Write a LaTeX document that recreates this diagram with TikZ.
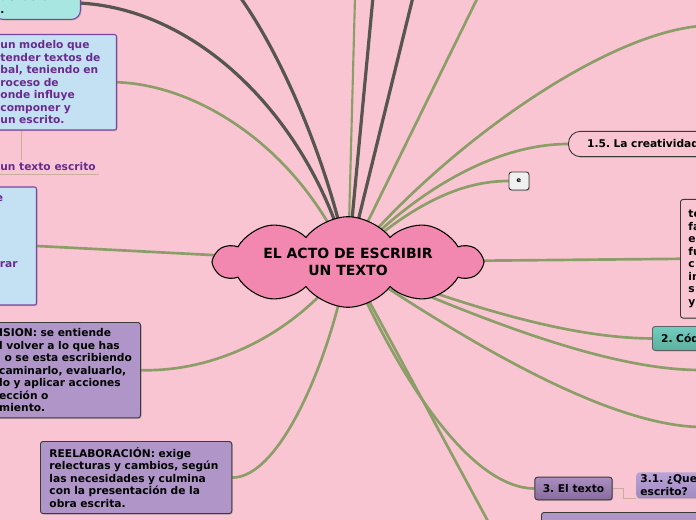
\documentclass[tikz,border=0pt]{standalone}
\usepackage{fontspec}
\setmainfont{DejaVu Sans}
\usetikzlibrary{shapes.symbols,shadows}
\frenchspacing

\definecolor{paper}{HTML}{F9C5D2}
\definecolor{cloudpink}{HTML}{F287B0}
\definecolor{twigc}{HTML}{8C9E68}
\definecolor{barkc}{HTML}{56554E}
\definecolor{stalkc}{HTML}{C9AE9E}
\definecolor{skyfill}{HTML}{C4E0F3}
\definecolor{plum}{HTML}{6A2B8E}
\definecolor{plumedge}{HTML}{7A45A0}
\definecolor{lilac}{HTML}{B096C8}
\definecolor{mint}{HTML}{A8E7E1}
\definecolor{edge}{HTML}{3A3A3A}
\definecolor{tealtop}{HTML}{72CDBE}
\definecolor{tealbot}{HTML}{5CAF9F}
\definecolor{grapetop}{HTML}{AA8EC0}
\definecolor{grapebot}{HTML}{886C9E}
\definecolor{violtop}{HTML}{BAA4D6}
\definecolor{violbot}{HTML}{A08AC0}

\pgfdeclarelayer{paperlayer}
\pgfdeclarelayer{links}
\pgfsetlayers{paperlayer,links,main}

\begin{document}
\begin{tikzpicture}[x=0.75pt, y=-0.75pt,
    topic/.style={font=\fontsize{8}{9.4}\selectfont\bfseries, align=left,
                  inner xsep=5pt, inner ysep=4.5pt},
    soft/.style={drop shadow={shadow xshift=0.8pt, shadow yshift=-0.8pt, opacity=0.35}},
    skybox/.style={topic, soft, draw=plumedge, fill=skyfill, text=plum,
                   rounded corners=1.5pt, line width=0.8pt},
    lilacbox/.style={topic, soft, draw=edge, fill=lilac, rounded corners=2pt, line width=0.7pt},
    mintbox/.style={topic, soft, draw=plumedge, fill=mint, rounded corners=7pt, line width=0.8pt},
    plainbox/.style={topic, soft, draw=edge, fill=paper, rounded corners=2pt, line width=0.7pt},
    twig/.style={draw=twigc, line width=2pt},
    bark/.style={draw=barkc, line width=2.4pt},
    stalk/.style={draw=stalkc, line width=0.7pt},
  ]
  \useasboundingbox (0,0) rectangle (696,520);
  \begin{pgfonlayer}{paperlayer}
    \fill[paper] (0,0) rectangle (696,520);
  \end{pgfonlayer}

  % central idea
  \node[cloud, cloud puffs=10, cloud puff arc=105, aspect=4.6, draw=black, line width=0.8pt,
        fill=cloudpink, minimum width=200pt, minimum height=50pt, align=center,
        font=\fontsize{10.5}{12.75}\selectfont\bfseries] (title) at (348,262)
        {EL ACTO DE ESCRIBIR\\UN TEXTO};

  % left side
  \node[mintbox, text width=55pt, anchor=south east] (fact) at (81,20) {del acto\\.};
  \node[skybox, text width=82pt, anchor=north east] (model) at (117,34)
    {un modelo que\\tender textos de\\bal, teniendo en\\roceso de\\onde influye\\componer y\\un escrito.};
  \node[topic, text=plum, inner xsep=2.25pt, inner ysep=2pt, anchor=south west] (wtext) at (-3,174)
    {un texto escrito};
  \node[skybox, text width=22.5pt, minimum height=88.5pt, anchor=east] (plan) at (37,246)
    {\hspace*{-3pt}e\\[40pt]rar\\[10pt]\strut};
  \node[lilacbox, text width=101pt, anchor=north east] (revi) at (141,322)
    {ISION: se entiende\\l volver a lo que has\\\hspace*{4pt}\mbox{o se esta escribiendo}\\caminarlo, evaluarlo,\\lo y aplicar acciones\\ección o\\miento.};
  \node[lilacbox, text width=130pt, inner xsep=6.75pt, anchor=north west] (reel) at (40,441)
    {REELABORACIÓN: exige\\relecturas y cambios, según\\las necesidades y culmina\\con la presentación de la\\obra escrita.};

  % right side
  \node[plainbox, rounded corners=9pt, text width=120pt, inner xsep=14pt, minimum height=19pt,
        anchor=west] (creat) at (568,144) {1.5. La creatividad};
  \node[plainbox, fill=black!6, inner sep=0pt, minimum width=15pt, minimum height=13.5pt,
        font=\fontsize{5}{6}\selectfont\bfseries] (ebox) at (519,181) {e};
  \node[plainbox, text width=60pt, inner xsep=6pt, minimum height=89pt, anchor=north west] (facts)
    at (680,199) {te\\fa\\e\\fu\\c\\in\\s\\y};
  \node[plainbox, draw=edge!80, top color=tealtop, bottom color=tealbot, text width=60pt,
        inner xsep=6.5pt, minimum height=18pt, anchor=north west] (codes) at (652,326) {2. Cód};
  \node[plainbox, top color=grapetop, bottom color=grapebot, align=center,
        minimum width=58pt, minimum height=17pt] (etext) at (573.5,488.5) {3. El texto};
  \node[plainbox, top color=violtop, bottom color=violbot, draw=none, text width=60pt,
        inner xsep=3pt, inner ysep=1.9pt, anchor=north west] (whatis) at (636,472) {3.1. ¿Que\\escrito?};
  \node[lilacbox, minimum width=150pt, minimum height=30pt, anchor=north west] (lastbox) at (541,512) {};

  % free ends of the branches that leave the page
  \coordinate (t1) at (240,-3);
  \coordinate (t2) at (355,-3);
  \coordinate (t3) at (373,-3);
  \coordinate (t4) at (413,-3);
  \coordinate (t5) at (478,-3);
  \coordinate (r1) at (700,26);
  \coordinate (r2) at (700,370);
  \coordinate (r3) at (700,427);
  \coordinate (b1) at (490,525);
  \coordinate (stem) at (21,0);

  \begin{pgfonlayer}{links}
    \draw[bark] (fact.east) .. controls (200,10) and (310,120) .. (title.center);
    \draw[twig] (model.east) .. controls (200,85) and (300,150) .. (title.center);
    \draw[stalk] (model.south -| stem) -- (wtext.north -| stem);
    \draw[stalk] (wtext.south west) -- (wtext.south east);
    \draw[twig] (plan.east) -- (title.center);
    \draw[twig] (revi.east) .. controls (220,372) and (300,330) .. (title.center);
    \draw[twig] (reel.east) .. controls (280,478) and (330,360) .. (title.center);

    \draw[bark] (t1) .. controls (285,60) and (330,170) .. (title.center);
    \draw[twig, line width=1.6pt] (t2) -- (title.center);
    \draw[bark] (t3) -- (title.center);
    \draw[bark] (t4) -- (title.center);
    \draw[twig] (t5) -- (title.center);

    \draw[twig] (r1) .. controls (600,35) and (440,150) .. (title.center);
    \draw[twig] (creat.west) .. controls (500,144) and (420,185) .. (title.center);
    \draw[twig] (ebox.west) .. controls (460,181) and (410,205) .. (title.center);
    \draw[twig] (facts.west) -- (title.center);
    \draw[twig] (codes.west) .. controls (560,338) and (450,300) .. (title.center);
    \draw[twig] (r2) .. controls (600,370) and (460,310) .. (title.center);
    \draw[twig] (r3) .. controls (600,425) and (450,330) .. (title.center);
    \draw[twig] (etext.west) .. controls (470,488) and (400,380) .. (title.center);
    \draw[twig] (b1) -- (title.center);
    \draw[stalk] (etext.east) -- ++(11,0) |- (whatis.south west);
  \end{pgfonlayer}
\end{tikzpicture}
\end{document}
